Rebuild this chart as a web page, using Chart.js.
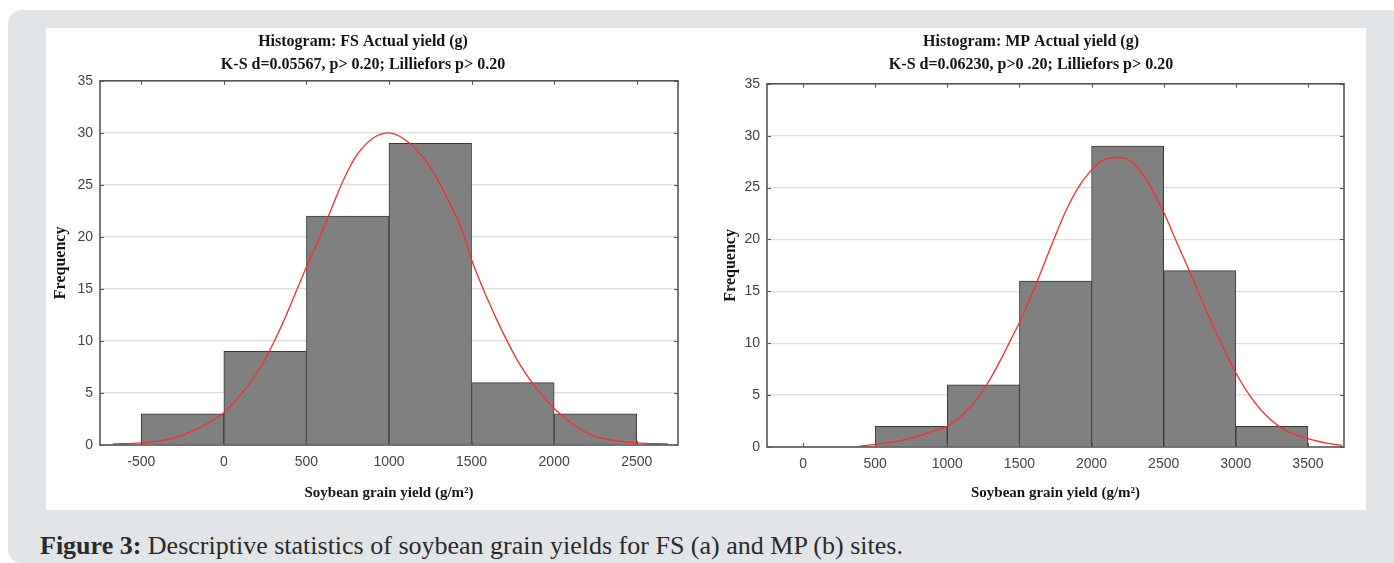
<!DOCTYPE html>
<html>
<head>
<meta charset="utf-8">
<title>Soybean grain yield histograms</title>
<script src="https://cdn.jsdelivr.net/npm/chart.js@4.4.1/dist/chart.umd.min.js"></script>
<style>
  html, body { margin: 0; padding: 0; background: #fff; width: 1394px; height: 563px; overflow: hidden; }
  .figure { position: absolute; left: 8px; top: 10px; width: 1400px; height: 553px; background: #e2e5e7; border-radius: 14px; }
  .panel { position: absolute; left: 38px; top: 18px; width: 1320px; height: 482px; background: #fff; }
  .chart-box { position: absolute; top: 0; height: 482px; }
  #boxFS { left: 0; width: 642px; }
  #boxMP { left: 654px; width: 666px; }
  .caption { position: absolute; left: 32px; top: 521px; font-family: 'Liberation Serif', 'Times New Roman', serif; font-size: 26px; line-height: 30px; color: #2a2a2a; white-space: nowrap; }
  .caption b { font-weight: bold; }
</style>
</head>
<body>
<div class="figure">
  <div class="panel">
    <div class="chart-box" id="boxFS"><canvas id="fsChart"></canvas></div>
    <div class="chart-box" id="boxMP"><canvas id="mpChart"></canvas></div>
  </div>
  <div class="caption"><b>Figure 3:</b> Descriptive statistics of soybean grain yields for FS (a) and MP (b) sites.</div>
</div>
<script>
// --- FS site: histogram bins (lower edge, width 500) and counts ---
const fsBinStart = [-500, 0, 500, 1000, 1500, 2000];
const fsCounts = [3, 9, 22, 29, 6, 3];
// fitted normal curve, sampled along the yield axis
const fsCurveX = [-672, -500, -308, -167, 0, 121, 197, 278, 359, 439, 500, 581, 641, 722, 803, 904, 1000,
                  1125, 1246, 1347, 1448, 1500, 1589, 1690, 1790, 1871, 2000, 2113, 2254, 2500, 2688];
const fsCurveY = [0.1, 0.2, 0.64, 1.5, 3.1, 5.2, 6.8, 9.1, 11.8, 14.8, 17.1, 20.0, 22.3, 25.4, 27.8, 29.5, 30.0,
                  29.0, 26.8, 23.9, 20.4, 17.8, 14.3, 10.8, 7.8, 5.9, 3.5, 2.0, 0.8, 0.2, 0.1];
const fsYieldTicks = [-500, 0, 500, 1000, 1500, 2000, 2500];

// --- MP site ---
const mpBinStart = [500, 1000, 1500, 2000, 2500, 3000];
const mpCounts = [2, 6, 16, 29, 17, 2];
const mpCurveX = [389, 500, 671, 810, 914, 1000, 1088, 1181, 1273, 1366, 1435, 1500, 1574, 1644, 1727, 1820,
                  1912, 2000, 2062, 2166, 2236, 2328, 2420, 2501, 2582, 2674, 2790, 2905, 2998, 3090, 3206,
                  3344, 3499, 3621, 3737];
const mpCurveY = [0.06, 0.25, 0.6, 1.1, 1.6, 2.0, 2.9, 4.2, 6.0, 8.3, 10.2, 12.0, 14.3, 16.7, 19.6, 22.7,
                  25.1, 26.7, 27.5, 27.9, 27.8, 26.8, 24.8, 22.6, 20.0, 17.1, 13.3, 9.8, 7.2, 5.1, 3.1,
                  1.6, 0.8, 0.4, 0.16];
const mpYieldTicks = [0, 500, 1000, 1500, 2000, 2500, 3000, 3500];

const binWidth = 500;
const freqTicks = [0, 5, 10, 15, 20, 25, 30, 35];

const serif = "'Liberation Serif', 'Times New Roman', serif";
const tickFont = { family: "'Liberation Sans', Arial, sans-serif", size: 14 };

// plot frame with short inward tick marks on all four sides
const frameBox = {
  id: 'frameBox',
  afterDatasetsDraw(chart) {
    const { ctx, chartArea: a, scales: { x, y } } = chart;
    ctx.save();
    ctx.strokeStyle = '#555';
    ctx.lineWidth = 1;
    ctx.beginPath();
    x.ticks.forEach(t => {
      const px = Math.round(x.getPixelForValue(t.value)) + 0.5;
      ctx.moveTo(px, a.top); ctx.lineTo(px, a.top + 4);
      ctx.moveTo(px, a.bottom); ctx.lineTo(px, a.bottom - 4);
    });
    y.ticks.forEach(t => {
      const py = Math.round(y.getPixelForValue(t.value)) + 0.5;
      ctx.moveTo(a.left, py); ctx.lineTo(a.left + 4, py);
      ctx.moveTo(a.right, py); ctx.lineTo(a.right - 4, py);
    });
    ctx.stroke();
    ctx.lineWidth = 1.6;
    ctx.strokeRect(a.left, a.top, a.width, a.height);
    ctx.restore();
  }
};

function histogram(canvasId, cfg) {
  const bars = cfg.binStart.map((b, i) => ({ x: b + binWidth / 2, y: cfg.counts[i] }));
  const curve = cfg.curveX.map((v, i) => ({ x: v, y: cfg.curveY[i] }));
  return new Chart(document.getElementById(canvasId), {
    type: 'bar',
    data: {
      datasets: [
        {
          type: 'line',
          data: curve,
          borderColor: '#ff2a2a',
          borderWidth: 1.3,
          pointRadius: 0,
          cubicInterpolationMode: 'monotone',
          order: 0
        },
        {
          type: 'bar',
          data: bars,
          backgroundColor: '#808080',
          borderColor: '#3a3a3a',
          borderWidth: 1,
          barPercentage: 1,
          categoryPercentage: 1,
          order: 1
        }
      ]
    },
    options: {
      responsive: true,
      maintainAspectRatio: false,
      animation: false,
      layout: { padding: cfg.padding },
      plugins: {
        legend: { display: false },
        tooltip: { enabled: false },
        title: {
          display: true,
          text: cfg.title,
          color: '#141414',
          font: { family: serif, weight: 'bold', size: 16, lineHeight: 1.4 },
          padding: { top: 0, bottom: cfg.titleGap }
        }
      },
      scales: {
        x: {
          type: 'linear',
          min: cfg.xMin,
          max: cfg.xMax,
          offset: false,
          afterBuildTicks: s => { s.ticks = cfg.xTicks.map(v => ({ value: v })); },
          afterFit: s => { s.height = cfg.xHeight; },
          grid: { display: false, drawTicks: false },
          border: { display: false },
          ticks: { color: '#444', font: tickFont, padding: 9, maxRotation: 0, callback: v => String(v) },
          title: {
            display: true,
            text: 'Soybean grain yield (g/m²)',
            color: '#141414',
            font: { family: serif, weight: 'bold', size: 15 },
            padding: { top: 0, bottom: 8 }
          }
        },
        y: {
          min: 0,
          max: 35,
          afterBuildTicks: s => { s.ticks = freqTicks.map(v => ({ value: v })); },
          afterFit: s => { s.width = cfg.yWidth; },
          grid: { color: '#dedede', lineWidth: 1.3, drawTicks: false },
          border: { display: false },
          ticks: { color: '#444', font: tickFont, padding: 7 },
          title: {
            display: true,
            text: 'Frequency',
            color: '#141414',
            font: { family: serif, weight: 'bold', size: 16 },
            padding: { top: 3, bottom: 0 }
          }
        }
      }
    },
    plugins: [frameBox]
  });
}

histogram('fsChart', {
  binStart: fsBinStart, counts: fsCounts, curveX: fsCurveX, curveY: fsCurveY,
  xMin: -750, xMax: 2750, xTicks: fsYieldTicks,
  title: ['Histogram: FS Actual yield (g)', 'K-S d=0.05567, p> 0.20; Lilliefors p> 0.20'],
  padding: { left: 2, right: 10, top: 3, bottom: 0 },
  titleGap: 5, yWidth: 52, xHeight: 65
});

histogram('mpChart', {
  binStart: mpBinStart, counts: mpCounts, curveX: mpCurveX, curveY: mpCurveY,
  xMin: -250, xMax: 3750, xTicks: mpYieldTicks,
  title: ['Histogram: MP Actual yield (g)', 'K-S d=0.06230, p>0 .20; Lilliefors p> 0.20'],
  padding: { left: 18, right: 22, top: 3, bottom: 0 },
  titleGap: 8, yWidth: 49, xHeight: 63
});
</script>
</body>
</html>
